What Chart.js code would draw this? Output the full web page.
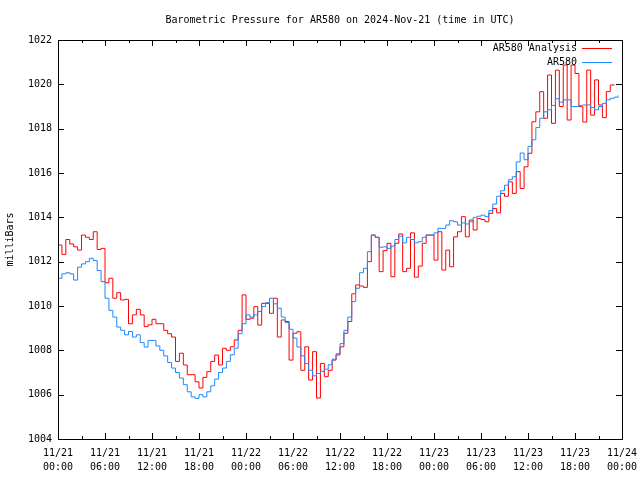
<!DOCTYPE html>
<html lang="en">
<head>
<meta charset="UTF-8" />
<title>Barometric Pressure for AR580</title>
<script src="https://cdn.jsdelivr.net/npm/chart.js"></script>
<style>
  body { margin: 0; background: #fff; }
  .wrap { width: 640px; height: 480px; }
</style>
</head>
<body>
<div class="wrap"><canvas id="chart" width="640" height="480"></canvas></div>
<script>
// samples every half hour from 2024-11-21 00:00 UTC
const sampleStepHours = 0.5;

const analysisPressure = [
  1012.75, 1012.33, 1013.0, 1012.8, 1012.67, 1012.52, 1013.2, 1013.1, 1013.0, 1013.35,
  1012.55, 1012.6, 1011.05, 1011.25, 1010.35, 1010.6, 1010.27, 1010.3, 1009.2, 1009.6,
  1009.85, 1009.6, 1009.07, 1009.15, 1009.4, 1009.2, 1009.2, 1008.9, 1008.75, 1008.6,
  1007.5, 1007.87, 1007.34, 1006.9, 1006.9, 1006.58, 1006.3, 1006.78, 1007.04, 1007.5,
  1007.79, 1007.34, 1008.09, 1008.0, 1008.16, 1008.47, 1008.9, 1010.5, 1009.4, 1009.45,
  1009.97, 1009.14, 1010.12, 1010.12, 1009.67, 1010.35, 1008.6, 1009.37, 1009.3, 1007.56,
  1008.77, 1008.84, 1007.1, 1008.16, 1006.66, 1007.94, 1005.85, 1007.41, 1006.81, 1007.1,
  1007.56, 1007.79, 1008.16, 1008.77, 1009.3, 1010.55, 1010.95, 1010.9, 1010.84, 1012.0,
  1013.2, 1013.1, 1011.55, 1012.5, 1012.83, 1011.32, 1012.83, 1013.25, 1011.55, 1011.7,
  1013.3, 1011.3, 1011.8, 1012.83, 1013.2, 1013.2, 1012.07, 1013.35, 1011.62, 1012.52,
  1011.77, 1013.12, 1013.35, 1014.03, 1013.12, 1013.88, 1013.43, 1013.95, 1013.9, 1013.8,
  1014.18, 1014.4, 1014.2, 1015.08, 1014.95, 1015.6, 1015.08, 1016.06, 1015.3, 1016.28,
  1016.89, 1018.31, 1018.76, 1019.67, 1018.47, 1020.42, 1018.24, 1020.64, 1019.0, 1020.87,
  1018.39, 1020.87, 1020.49, 1018.99, 1018.3, 1020.64, 1018.61, 1020.2, 1019.07, 1018.5,
  1019.67, 1019.97, 1020.0, null
];

const stationPressure = [
  1011.25, 1011.45, 1011.5, 1011.45, 1011.17, 1011.75, 1011.9, 1012.0, 1012.15, 1012.05,
  1011.6, 1011.1, 1010.35, 1009.8, 1009.5, 1009.05, 1008.9, 1008.7, 1008.85, 1008.6,
  1008.7, 1008.35, 1008.15, 1008.45, 1008.45, 1008.2, 1008.0, 1007.75, 1007.45, 1007.2,
  1007.0, 1006.75, 1006.45, 1006.13, 1005.9, 1005.83, 1006.0, 1005.9, 1006.13, 1006.4,
  1006.7, 1007.0, 1007.2, 1007.5, 1007.8, 1008.1, 1008.75, 1009.2, 1009.6, 1009.5,
  1009.6, 1009.75, 1009.97, 1010.15, 1010.35, 1010.1, 1009.9, 1009.5, 1009.25, 1008.95,
  1008.55, 1008.15, 1007.75, 1007.4, 1007.1, 1006.85, 1006.95, 1007.05, 1007.15, 1007.35,
  1007.6, 1007.85, 1008.3, 1008.9, 1009.5, 1010.2, 1010.8, 1011.5, 1011.7, 1012.45,
  1013.2, 1013.1, 1012.65, 1012.67, 1012.6, 1012.7, 1013.0, 1013.15, 1012.85, 1013.1,
  1013.0, 1012.85, 1012.9, 1013.1, 1013.2, 1013.2, 1013.3, 1013.5, 1013.5, 1013.65,
  1013.85, 1013.8, 1013.65, 1013.75, 1013.7, 1013.8, 1014.0, 1014.05, 1014.1, 1014.03,
  1014.3, 1014.6, 1014.95, 1015.2, 1015.45, 1015.7, 1015.83, 1016.5, 1016.9, 1016.6,
  1017.2, 1017.5, 1018.05, 1018.47, 1018.76, 1018.85, 1019.05, 1019.35, 1019.2, 1019.3,
  1019.3, 1019.0, 1019.0, 1019.05, 1019.07, 1019.07, 1018.95, 1018.85, 1019.0, 1019.14,
  1019.3, 1019.37, 1019.42, 1019.5
];

const seriesLabels = ['AR580 Analysis', 'AR580'];
const seriesColors = ['#ff0000', '#1e88ff'];

// one label every 6 hours, minor tics every 3
const xTickLabels = [
  ['11/21', '00:00'], ['11/21', '06:00'], ['11/21', '12:00'], ['11/21', '18:00'],
  ['11/22', '00:00'], ['11/22', '06:00'], ['11/22', '12:00'], ['11/22', '18:00'],
  ['11/23', '00:00'], ['11/23', '06:00'], ['11/23', '12:00'], ['11/23', '18:00'],
  ['11/24', '00:00']
];
const yTickValues = [1004, 1006, 1008, 1010, 1012, 1014, 1016, 1018, 1020, 1022];

const FONT = "'DejaVu Sans Mono', 'Liberation Mono', monospace";
const textFont = { family: FONT, size: 10, weight: 'normal', lineHeight: 1.4 };

function toPoints(values) {
  return values.map((v, i) => ({ x: i * sampleStepHours, y: v }));
}

// gnuplot-like frame: border, inward tics on all sides, legend top right
const framePlugin = {
  id: 'frame',
  afterDatasetsDraw(chart) {
    const { ctx, chartArea: a, scales } = chart;
    ctx.save();
    ctx.strokeStyle = '#000';
    ctx.lineWidth = 1;
    ctx.beginPath();
    scales.x.ticks.forEach(t => {
      const px = Math.round(scales.x.getPixelForValue(t.value)) + 0.5;
      const len = t.value % 6 === 0 ? 6 : 3;
      ctx.moveTo(px, a.bottom); ctx.lineTo(px, a.bottom - len);
      ctx.moveTo(px, a.top); ctx.lineTo(px, a.top + len);
    });
    scales.y.ticks.forEach(t => {
      const py = Math.round(scales.y.getPixelForValue(t.value)) + 0.5;
      ctx.moveTo(a.left, py); ctx.lineTo(a.left + 6, py);
      ctx.moveTo(a.right, py); ctx.lineTo(a.right - 6, py);
    });
    ctx.stroke();
    ctx.strokeRect(Math.round(a.left) + 0.5, Math.round(a.top) + 0.5,
      Math.round(a.right - a.left), Math.round(a.bottom - a.top));

    ctx.font = textFont.size + 'px ' + FONT;
    ctx.textAlign = 'right';
    ctx.textBaseline = 'middle';
    seriesLabels.forEach((label, i) => {
      const y = Math.round(a.top + 8 + i * 14);
      ctx.fillStyle = '#000';
      ctx.fillText(label, Math.round(a.right - 45), y);
      ctx.fillStyle = seriesColors[i];
      ctx.fillRect(Math.round(a.right - 40), y, 30, 1);
    });
    ctx.restore();
  }
};

new Chart(document.getElementById('chart'), {
  type: 'line',
  data: {
    datasets: [
      {
        label: seriesLabels[0],
        data: toPoints(analysisPressure),
        borderColor: seriesColors[0],
        borderWidth: 1,
        stepped: true,
        pointRadius: 0,
        spanGaps: false,
        order: 2
      },
      {
        label: seriesLabels[1],
        data: toPoints(stationPressure),
        borderColor: seriesColors[1],
        borderWidth: 1,
        stepped: true,
        pointRadius: 0,
        order: 1
      }
    ]
  },
  options: {
    responsive: false,
    animation: false,
    layout: { padding: { left: 0, right: 18, top: 0, bottom: 0 } },
    plugins: {
      legend: { display: false },
      tooltip: { enabled: false },
      title: {
        display: true,
        fullSize: false,
        text: 'Barometric Pressure for AR580 on 2024-Nov-21 (time in UTC)',
        color: '#000',
        font: { family: FONT, size: 10, weight: 'normal', lineHeight: 1.2 },
        padding: { top: 14, bottom: 14 }
      }
    },
    scales: {
      x: {
        type: 'linear',
        min: 0,
        max: 72,
        grid: { display: false, drawTicks: false },
        border: { display: false },
        afterBuildTicks: s => {
          const ticks = [];
          for (let h = 0; h <= 72; h += 3) ticks.push({ value: h });
          s.ticks = ticks;
        },
        afterFit: s => {
          s.height = 41;
          s.paddingLeft = 0;
          s.paddingRight = 0;
        },
        ticks: {
          autoSkip: false,
          maxRotation: 0,
          minRotation: 0,
          padding: 7,
          color: '#000',
          font: textFont,
          callback: v => (v % 6 === 0 ? xTickLabels[v / 6] : '')
        }
      },
      y: {
        min: 1004,
        max: 1022,
        grid: { display: false, drawTicks: false },
        border: { display: false },
        afterBuildTicks: s => { s.ticks = yTickValues.map(v => ({ value: v })); },
        afterFit: s => {
          s.width = 58;
          s.paddingTop = 0;
          s.paddingBottom = 0;
        },
        ticks: {
          padding: 6,
          color: '#000',
          font: textFont,
          callback: v => String(v)
        },
        title: {
          display: true,
          text: 'milliBars',
          color: '#000',
          font: { family: FONT, size: 10, weight: 'normal', lineHeight: 1.2 },
          padding: { top: 4, bottom: 0 }
        }
      }
    }
  },
  plugins: [framePlugin]
});
</script>
</body>
</html>
